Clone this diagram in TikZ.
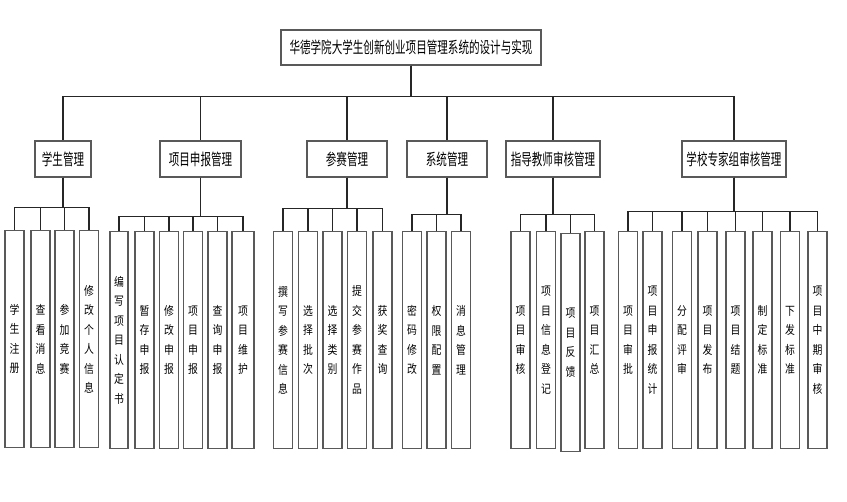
\documentclass[tikz,border=0pt]{standalone}
\usepackage{fontspec}
\newfontfamily\boxfont[FakeStretch=0.66]{Noto Sans CJK SC}
\newfontfamily\leaffont[FakeStretch=0.82]{Noto Sans CJK SC}
\usetikzlibrary{positioning}

\begin{document}
\begin{tikzpicture}[x=1pt, y=-1pt,
  box/.style={draw=black!65, line width=1.3pt, fill=white, inner sep=0pt,
    minimum height=36pt, font=\boxfont\fontsize{16}{16}\selectfont},
  leaf/.style={draw=black!65, line width=1.3pt, fill=white, inner sep=0pt,
    anchor=north, minimum width=19pt, minimum height=217pt, align=center,
    font=\leaffont\fontsize{12}{19.5}\selectfont},
  link/.style={draw=black!85, line width=1.3pt}]
  \useasboundingbox[fill=white] (0,0) rectangle (847,502);

  \node[box, minimum width=260pt, minimum height=35pt] (root) at (411,47.5)
    {华德学院大学生创新创业项目管理系统的设计与实现};

  \node[box, minimum width=56pt] (g1) at (63,159) {学生管理};
  \node[box, minimum width=81pt] (g2) at (200.5,159) {项目申报管理};
  \node[box, minimum width=80pt] (g3) at (347,159) {参赛管理};
  \node[box, minimum width=80pt] (g4) at (447,159) {系统管理};
  \node[box, minimum width=94pt] (g5) at (553,159) {指导教师审核管理};
  \node[box, minimum width=104pt] (g6) at (734,159) {学校专家组审核管理};

  % 学生管理
  \node[leaf] (l11) at (14.5,230) {学\\生\\注\\册};
  \node[leaf] (l12) at (40.5,230) {查\\看\\消\\息};
  \node[leaf] (l13) at (64.5,230) {参\\加\\竞\\赛};
  \node[leaf] (l14) at (89,230) {修\\改\\个\\人\\信\\息};
  % 项目申报管理
  \node[leaf, minimum width=18pt] (l21) at (119,231) {编\\写\\项\\目\\认\\定\\书};
  \node[leaf] (l22) at (144.5,231) {暂\\存\\申\\报};
  \node[leaf] (l23) at (169,231) {修\\改\\申\\报};
  \node[leaf] (l24) at (193,231) {项\\目\\申\\报};
  \node[leaf] (l25) at (217.5,231) {查\\询\\申\\报};
  \node[leaf, minimum width=22pt] (l26) at (243,231) {项\\目\\维\\护};
  % 参赛管理
  \node[leaf] (l31) at (283,231) {撰\\写\\参\\赛\\信\\息};
  \node[leaf] (l32) at (308,231) {选\\择\\批\\次};
  \node[leaf] (l33) at (332.5,231) {选\\择\\类\\别};
  \node[leaf] (l34) at (357,231) {提\\交\\参\\赛\\作\\品};
  \node[leaf] (l35) at (382.5,231) {获\\奖\\查\\询};
  % 系统管理
  \node[leaf] (l41) at (412,231) {密\\码\\修\\改};
  \node[leaf] (l42) at (436.5,231) {权\\限\\配\\置};
  \node[leaf] (l43) at (461,231) {消\\息\\管\\理};
  % 指导教师审核管理
  \node[leaf] (l51) at (520.5,231) {项\\目\\审\\核};
  \node[leaf] (l52) at (546,231) {项\\目\\信\\息\\登\\记};
  \node[leaf, minimum height=218pt] (l53) at (570.5,233) {项\\目\\反\\馈};
  \node[leaf] (l54) at (594.5,231) {项\\目\\汇\\总};
  % 学校专家组审核管理
  \node[leaf] (l61) at (628,231) {项\\目\\审\\批};
  \node[leaf] (l62) at (652.5,231) {项\\目\\申\\报\\统\\计};
  \node[leaf] (l63) at (682,231) {分\\配\\评\\审};
  \node[leaf] (l64) at (707.5,231) {项\\目\\发\\布};
  \node[leaf] (l65) at (735.5,231) {项\\目\\结\\题};
  \node[leaf] (l66) at (762.5,231) {制\\定\\标\\准};
  \node[leaf] (l67) at (790,231) {下\\发\\标\\准};
  \node[leaf] (l68) at (817.5,231) {项\\目\\中\\期\\审\\核};

  \foreach \g in {g1,g2,g3,g4,g5,g6}
    \draw[link] (root.south) -- ++(0,31) -| (\g.north);
  \foreach \l in {l11,l12,l13,l14}
    \draw[link] (g1.south) -- ++(0,30) -| (\l.north);
  \foreach \l in {l21,l22,l23,l24,l25,l26}
    \draw[link] (g2.south) -- ++(0,39) -| (\l.north);
  \foreach \l in {l31,l32,l33,l34,l35}
    \draw[link] (g3.south) -- ++(0,31) -| (\l.north);
  \foreach \l in {l41,l42,l43}
    \draw[link] (g4.south) -- ++(0,37) -| (\l.north);
  \foreach \l in {l51,l52,l53,l54}
    \draw[link] (g5.south) -- ++(0,37) -| (\l.north);
  \foreach \l in {l61,l62,l63,l64,l65,l66,l67,l68}
    \draw[link] (g6.south) -- ++(0,34) -| (\l.north);
\end{tikzpicture}
\end{document}
